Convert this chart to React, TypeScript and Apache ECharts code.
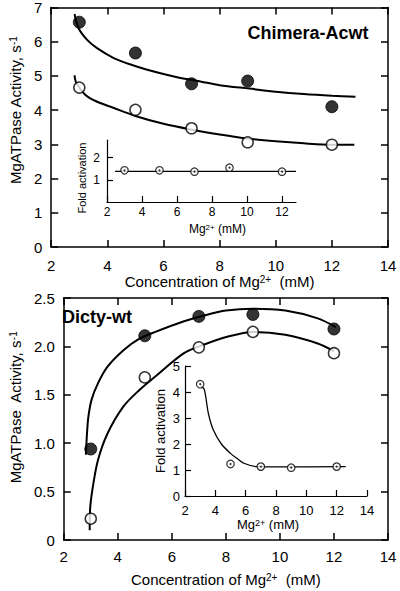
import React, { useEffect, useRef } from "react";
import * as echarts from "echarts";

const FONT = "'Liberation Sans', Arial, Helvetica, sans-serif";

// ---------- Chimera-Acwt (top panel) ----------
const chimeraFilled = [[3, 6.57], [5, 5.67], [7, 4.77], [9, 4.85], [12, 4.1]];
const chimeraOpen = [[3, 4.66], [5, 4.01], [7, 3.47], [9, 3.06], [12, 2.99]];
const chimeraFilledFit = [
  [2.83, 6.81], [2.97, 6.4], [3.27, 6.06], [3.62, 5.82], [4.21, 5.53], [4.8, 5.34],
  [5.39, 5.19], [6.45, 4.97], [7.35, 4.83], [8, 4.73], [9.06, 4.63], [10, 4.54],
  [11, 4.47], [12, 4.42], [12.84, 4.39],
];
const chimeraOpenFit = [
  [2.83, 5.02], [2.89, 4.8], [3.2, 4.46], [3.6, 4.26], [4.21, 4.07], [5, 3.83],
  [6, 3.6], [7, 3.43], [8, 3.29], [9, 3.17], [10, 3.09], [11, 3.03], [12, 2.99], [12.8, 2.99],
];
const chimeraFold = [[3, 1.43], [5, 1.43], [7, 1.37], [9, 1.55], [12, 1.37]];
const chimeraFoldFit = [[2.46, 1.38], [12.8, 1.38]];

// ---------- Dicty-wt (bottom panel) ----------
const dictyFilled = [[3, 0.94], [5, 2.11], [7, 2.31], [9, 2.33], [12, 2.18]];
const dictyOpen = [[3, 0.22], [5, 1.68], [7, 1.99], [9, 2.15], [12, 1.93]];
const dictyFilledFit = [
  [2.82, 0.88], [2.86, 1.1], [2.91, 1.27], [3.03, 1.45], [3.27, 1.62], [3.62, 1.79],
  [4.21, 1.96], [4.8, 2.08], [5.39, 2.15], [6.45, 2.26], [7.2, 2.32], [8.0, 2.37],
  [9.0, 2.39], [10.2, 2.37], [11.4, 2.29], [12.07, 2.2],
];
const dictyOpenFit = [
  [2.96, 0.1], [2.98, 0.34], [3.1, 0.59], [3.27, 0.83], [3.62, 1.1], [4.21, 1.38],
  [4.8, 1.55], [5.39, 1.69], [6.45, 1.93], [7.2, 2.02], [8.05, 2.1], [9.0, 2.15],
  [10.2, 2.12], [11.4, 2.03], [12.0, 1.95],
];
const dictyFold = [[3, 4.3], [5, 1.23], [7, 1.13], [9, 1.09], [12, 1.13]];
const dictyFoldFit = [
  [3.05, 4.25], [3.28, 4.08], [3.54, 3.18], [3.87, 2.54], [4.4, 2.0], [5, 1.64],
  [5.42, 1.45], [5.88, 1.26], [6.75, 1.13], [8, 1.12], [12.6, 1.13],
];

// ---------- tick labels ----------
const inset1XTicks = [2, 4, 6, 8, 10, 12];
const inset1YTicks = [1, 2];

const black = "#000";

function xAx(grid: number, opts: any) {
  return {
    type: "value",
    gridIndex: grid,
    position: opts.position || "bottom",
    min: opts.min,
    max: opts.max,
    interval: opts.interval,
    axisLine: { show: true, onZero: false, lineStyle: { color: black, width: opts.lw || 1.5 } },
    axisTick: {
      show: true, inside: true, length: opts.tl || 7,
      lineStyle: { color: black, width: opts.lw || 1.5 },
      customValues: opts.customTicks,
    },
    axisLabel: {
      show: opts.labels !== false,
      color: black,
      fontSize: opts.fs || 15,
      fontFamily: FONT,
      margin: opts.margin ?? 10,
      customValues: opts.customTicks,
      formatter: opts.formatter,
    },
    splitLine: { show: false },
    name: opts.name,
    nameLocation: "middle",
    nameGap: opts.nameGap,
    nameTextStyle: opts.nameStyle,
  };
}

function supName(fs: number, padding?: number[]) {
  return {
    color: black,
    fontSize: fs,
    fontFamily: FONT,
    padding: padding || 0,
    rich: {
      sup: { fontSize: Math.round(fs * 0.68), fontFamily: FONT, color: black, verticalAlign: "top", padding: [0, 0, Math.round(fs * 0.3), 0] },
    },
  };
}

function lineSeries(x: number, y: number, data: number[][], w: number) {
  return {
    type: "line",
    xAxisIndex: x,
    yAxisIndex: y,
    data,
    smooth: 0.3,
    showSymbol: false,
    symbol: "none",
    lineStyle: { color: black, width: w },
    z: 2,
    silent: true,
  };
}

function scatter(x: number, y: number, data: number[][], filled: boolean, size: number, bw: number, z = 3) {
  return {
    type: "scatter",
    xAxisIndex: x,
    yAxisIndex: y,
    data,
    symbol: "circle",
    symbolSize: size,
    itemStyle: { color: filled ? black : "#fff", borderColor: black, borderWidth: bw },
    z,
    silent: true,
  };
}

export default function App() {
  const ref = useRef<HTMLDivElement>(null);
  useEffect(() => {
    document.body.style.margin = "0";
    const chart = echarts.init(ref.current!, undefined, { renderer: "svg" });
    const option: any = {
      animation: false,
      backgroundColor: "#fff",
      textStyle: { fontFamily: FONT },
      grid: [
        { left: 49, top: 6, width: 339, height: 241 },
        { left: 107, top: 140, width: 189, height: 62 },
        { left: 49, top: 298, width: 339, height: 242 },
        { left: 185, top: 366, width: 182, height: 130 },
      ],
      xAxis: [
        xAx(0, { min: 2, max: 14, interval: 2, margin: 11, name: "Concentration of Mg{sup|2+}  (mM)", nameGap: 27, nameStyle: supName(15) }),
        xAx(0, { min: 2, max: 14, interval: 2, position: "top", labels: false }),
        xAx(1, {
          min: 2, max: 12.8, customTicks: inset1XTicks, fs: 12, margin: 4, lw: 1.2, tl: 6,
          name: "Mg{sup|2+} (mM)", nameGap: 21, nameStyle: supName(12, [0, 0, 0, 32]),
        }),
        xAx(2, { min: 2, max: 14, interval: 2, margin: 9, name: "Concentration of Mg{sup|2+}  (mM)", nameGap: 32, nameStyle: supName(15) }),
        xAx(2, { min: 2, max: 14, interval: 2, position: "top", labels: false }),
        xAx(3, {
          min: 2, max: 14, interval: 2, fs: 13, margin: 8, lw: 1.2, tl: 6,
          name: "Mg{sup|2+} (mM)", nameGap: 22, nameStyle: supName(13, [0, 16, 0, 0]),
        }),
      ],
      yAxis: [
        xAx(0, { position: "left", min: 0, max: 7, interval: 1, margin: 9, name: "MgATPase Activity, s{sup|-1}", nameGap: 25, nameStyle: supName(15, [0, 0, 0, 34]) }),
        xAx(0, { position: "right", min: 0, max: 7, interval: 1, labels: false }),
        xAx(1, {
          position: "left", min: 0, max: 2.8, customTicks: inset1YTicks, fs: 12, margin: 7, lw: 1.2, tl: 6,
          name: "Fold activation", nameGap: 20, nameStyle: { color: black, fontSize: 11, fontFamily: FONT, padding: [0, 14, 0, 0] },
        }),
        xAx(2, {
          position: "left", min: 0, max: 2.5, interval: 0.5, margin: 9,
          formatter: (v: number) => (v === 0 ? "0" : v.toFixed(1)),
          name: "MgATPase  Activity, s{sup|-1}", nameGap: 28, nameStyle: supName(15, [0, 0, 0, 23]),
        }),
        xAx(2, { position: "right", min: 0, max: 2.5, interval: 0.5, labels: false }),
        xAx(3, {
          position: "left", min: 0, max: 5, interval: 1, fs: 13, margin: 5, lw: 1.2, tl: 6,
          name: "Fold activation", nameGap: 18, nameStyle: { color: black, fontSize: 13, fontFamily: FONT },
        }),
      ],
      series: [
        lineSeries(0, 0, chimeraFilledFit, 2),
        lineSeries(0, 0, chimeraOpenFit, 2),
        scatter(0, 0, chimeraFilled, true, 12, 1),
        scatter(0, 0, chimeraOpen, false, 11, 1.5),
        lineSeries(2, 2, chimeraFoldFit, 1.3),
        scatter(2, 2, chimeraFold, false, 7.5, 1.2, 4),
        scatter(2, 2, chimeraFold, true, 2, 0, 5),
        lineSeries(3, 3, dictyFilledFit, 2),
        lineSeries(3, 3, dictyOpenFit, 2),
        scatter(3, 3, dictyFilled, true, 12, 1),
        scatter(3, 3, dictyOpen, false, 11, 1.5),
        lineSeries(5, 5, dictyFoldFit, 1.3),
        scatter(5, 5, dictyFold, false, 7.5, 1.2, 4),
        scatter(5, 5, dictyFold, true, 2, 0, 5),
      ],
      graphic: [
        {
          type: "text", x: 308, y: 33,
          style: { text: "Chimera-Acwt", fill: black, font: `bold 18px ${FONT}`, textAlign: "center", textVerticalAlign: "middle", align: "center", verticalAlign: "middle" },
        },
        {
          type: "text", x: 97, y: 317,
          style: { text: "Dicty-wt", fill: black, font: `bold 18px ${FONT}`, textAlign: "center", textVerticalAlign: "middle", align: "center", verticalAlign: "middle" },
        },
      ],
    };
    chart.setOption(option);
    return () => chart.dispose();
  }, []);
  return <div ref={ref} style={{ width: 400, height: 591 }} />;
}
